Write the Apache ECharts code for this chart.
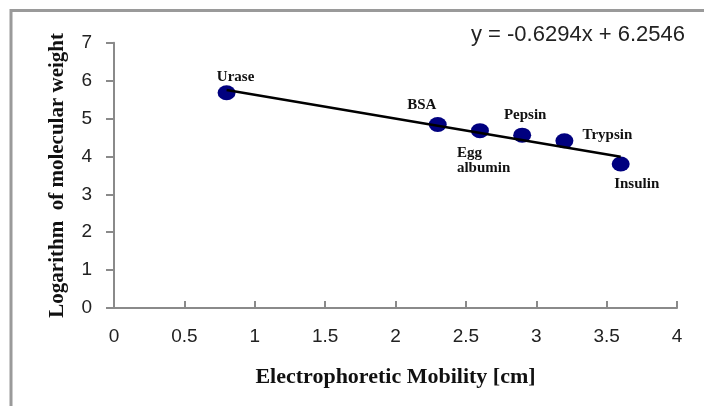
<!DOCTYPE html>
<html>
<head>
<meta charset="utf-8">
<script src="https://cdn.jsdelivr.net/npm/echarts@6/dist/echarts.min.js"></script>
<style>html,body{margin:0;padding:0;background:#fff}#c{width:704px;height:406px}</style>
</head>
<body>
<div id="c"></div>
<script>
const proteins = ['Urase', 'BSA', 'Egg\nalbumin', 'Pepsin', 'Trypsin', 'Insulin'];
const mobility = [0.8, 2.3, 2.6, 2.9, 3.2, 3.6];
const logMW = [5.68, 4.84, 4.68, 4.56, 4.41, 3.80];
const trendX = [0.8, 3.6];
const trendY = [5.751, 3.989];
const equation = 'y = -0.6294x + 6.2546';
const xTitle = 'Electrophoretic Mobility [cm]';
const yTitle = 'Logarithm  of molecular weight';

const labelStyle = {
  'Urase': {offset: [9, -16], align: 'center'},
  'BSA': {offset: [-16, -19], align: 'center'},
  'Egg\nalbumin': {offset: [-23, 30], align: 'left'},
  'Pepsin': {offset: [3, -20], align: 'center'},
  'Trypsin': {offset: [43, -6], align: 'center'},
  'Insulin': {offset: [16, 20], align: 'center'}
};

const chart = echarts.init(document.getElementById('c'), null, {renderer: 'canvas'});
const axisColor = '#8a8a8a';
const tickFont = {fontFamily: 'Liberation Sans, Arial, sans-serif', fontSize: 19, color: '#222'};
const serif = 'Liberation Serif, Times New Roman, serif';

chart.setOption({
  animation: false,
  backgroundColor: '#fff',
  grid: {left: 114, right: 27, top: 42.7, bottom: 98, containLabel: false},
  xAxis: {
    type: 'value', min: 0, max: 4, interval: 0.5,
    splitLine: {show: false},
    axisLine: {show: true, onZero: false, lineStyle: {color: axisColor, width: 2}},
    axisTick: {show: true, inside: true, length: 7, lineStyle: {color: axisColor, width: 2}},
    axisLabel: Object.assign({margin: 19}, tickFont),
    name: xTitle, nameLocation: 'middle', nameGap: 58,
    nameTextStyle: {fontFamily: serif, fontSize: 22, fontWeight: 'bold', color: '#111'}
  },
  yAxis: {
    type: 'value', min: 0, max: 7, interval: 1,
    splitLine: {show: false},
    axisLine: {show: true, onZero: false, lineStyle: {color: axisColor, width: 2}},
    axisTick: {show: true, inside: false, length: 8, lineStyle: {color: axisColor, width: 2}},
    axisLabel: Object.assign({margin: 22}, tickFont),
    name: yTitle, nameLocation: 'middle', nameGap: 46,
    nameTextStyle: {fontFamily: serif, fontSize: 21, fontWeight: 'bold', color: '#111'}
  },
  graphic: [
    {type: 'polyline', shape: {points: [[11, 406], [11, 10.5], [704, 10.5]]},
     style: {stroke: '#9a9a9a', lineWidth: 3, fill: null}, z: 10},
    {type: 'text', right: 19, top: 24,
     style: {text: equation, font: '22px "Liberation Sans", Arial, sans-serif', fill: '#222'}}
  ],
  series: [
    {
      type: 'scatter',
      symbol: 'circle',
      symbolSize: [18, 15],
      itemStyle: {color: '#00007f', opacity: 1},
      data: mobility.map((x, i) => ({
        value: [x, logMW[i]],
        label: {
          show: true, position: 'inside',
          formatter: proteins[i],
          offset: labelStyle[proteins[i]].offset,
          align: labelStyle[proteins[i]].align,
          verticalAlign: 'middle',
          fontFamily: serif,
          fontWeight: 'bold', fontSize: 15, lineHeight: 15, color: '#111'
        }
      })),
      z: 2
    },
    {
      type: 'line',
      data: trendX.map((x, i) => [x, trendY[i]]),
      symbol: 'none',
      lineStyle: {color: '#000', width: 2.5},
      z: 3
    }
  ]
});
</script>
</body>
</html>
